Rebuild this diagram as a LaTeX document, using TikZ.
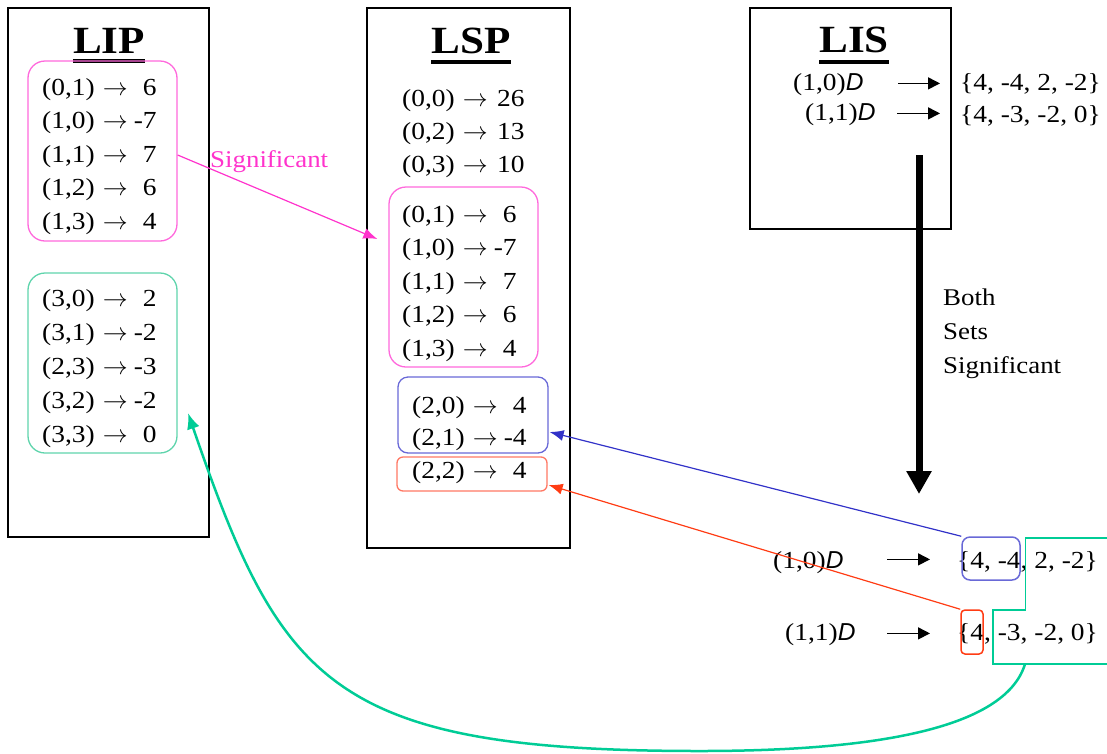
\documentclass[tikz,border=0pt]{standalone}
\usepackage{fontspec}
\setmainfont[FakeStretch=1.12]{Liberation Serif}
\newfontfamily\dfont{Liberation Sans}
\usetikzlibrary{arrows.meta}
\definecolor{pinkc}{RGB}{255,51,204}
\definecolor{pinkb}{RGB}{255,105,220}
\definecolor{greenc}{RGB}{0,204,150}
\definecolor{greenb}{RGB}{95,212,172}
\definecolor{bluec}{RGB}{50,50,200}
\definecolor{blueb}{RGB}{105,105,215}
\definecolor{redc}{RGB}{255,60,20}
\definecolor{redb}{RGB}{255,120,100}
\newcommand\rowfont{\fontsize{24.5}{30}\selectfont}
\newcommand\rw[3][29pt]{#2\hspace{8pt}$\rightarrow$\makebox[#1][r]{#3}}
\newcommand\dD{{\dfont\itshape D}}
\tikzset{
  panel/.style={draw, line width=1.5pt, inner sep=0},
  grp/.style={draw, line width=1.3pt, rounded corners=#1, inner sep=0},
  row/.style={anchor=base west, inner sep=0, font=\rowfont},
  head/.style={anchor=base, inner sep=0, font=\fontsize{38.5}{46}\selectfont\bfseries},
  uline/.style={line width=4pt},
  thin arrow/.style={line width=1.2pt, -{Latex[length=14pt,width=11pt]}},
  darr/.style={line width=1.5pt, -{Triangle[length=12pt,width=12pt]}},
}
\begin{document}
\begin{tikzpicture}[x=1pt,y=-1pt]
\useasboundingbox (0,0) rectangle (1107,753);

% ---------- panels
\node[panel, minimum width=201pt, minimum height=529pt] (LIP) at (108.5,272.5) {};
\node[panel, line width=2pt, minimum width=203pt, minimum height=540pt] (LSP) at (468.5,278) {};
\node[panel, minimum width=201pt, minimum height=221pt] (LIS) at (850.5,118.5) {};

% ---------- headings
\node[head] (hLIP) at (109,53) {LIP};
\node[head] (hLSP) at (471,53) {LSP};
\node[head] (hLIS) at (854,52) {LIS};
\draw[uline] ([yshift=-8pt]hLIP.base west) -- ([yshift=-8pt]hLIP.base east);
\draw[uline] ([yshift=-9pt]hLSP.base west) -- ([yshift=-9pt]hLSP.base east);
\draw[uline] ([yshift=-10pt]hLIS.base west) -- ([yshift=-10pt]hLIS.base east);

% ---------- group boxes
\node[grp=17pt, draw=pinkb, minimum width=149pt, minimum height=180pt] (pL) at (102.5,151) {};
\node[grp=17pt, draw=greenb, minimum width=149pt, minimum height=180pt] (gL) at (102.5,363) {};
\node[grp=17pt, draw=pinkb, minimum width=149pt, minimum height=180pt] (pS) at (463.5,277) {};
\node[grp=10pt, draw=blueb, minimum width=150pt, minimum height=76pt] (bS) at (473,415) {};
\node[grp=6pt, draw=redb, minimum width=150pt, minimum height=34pt] (rS) at (472,474) {};

% ---------- LIP rows
\node[row] (a1) at (42,95)    {\rw{(0,1)}{6}};
\node[row] (a2) at (42,128.5) {\rw{(1,0)}{-7}};
\node[row] (a3) at (42,162)   {\rw{(1,1)}{7}};
\node[row] (a4) at (42,195.5) {\rw{(1,2)}{6}};
\node[row] (a5) at (42,229)   {\rw{(1,3)}{4}};
\node[row] (b1) at (42,306)   {\rw{(3,0)}{2}};
\node[row] (b2) at (42,340)   {\rw{(3,1)}{-2}};
\node[row] (b3) at (42,374)   {\rw{(2,3)}{-3}};
\node[row] (b4) at (42,408)   {\rw{(3,2)}{-2}};
\node[row] (b5) at (42,442)   {\rw{(3,3)}{0}};

% ---------- LSP rows
\node[row] (c1) at (402,106)  {\rw[37pt]{(0,0)}{26}};
\node[row] (c2) at (402,139)  {\rw[37pt]{(0,2)}{13}};
\node[row] (c3) at (402,172)  {\rw[37pt]{(0,3)}{10}};
\node[row] (d1) at (402,222)   {\rw{(0,1)}{6}};
\node[row] (d2) at (402,255.5) {\rw{(1,0)}{-7}};
\node[row] (d3) at (402,289)   {\rw{(1,1)}{7}};
\node[row] (d4) at (402,322.5) {\rw{(1,2)}{6}};
\node[row] (d5) at (402,356)   {\rw{(1,3)}{4}};
\node[row] (e1) at (412,413) {\rw{(2,0)}{4}};
\node[row] (e2) at (412,445) {\rw{(2,1)}{-4}};
\node[row] (e3) at (412,478) {\rw{(2,2)}{4}};

% ---------- LIS rows
\node[row] (l1) at (793,90)  {(1,0)\dD};
\node[row] (l2) at (805,120) {(1,1)\dD};
\node[row] (s1) at (960,90)  {\{4, -4, 2, -2\}};
\node[row] (s2) at (960,122) {\{4, -3, -2, 0\}};
\draw[darr] ([xshift=-62pt]s1.west) -- ([xshift=-20pt]s1.west);
\draw[darr] ([xshift=-63pt,yshift=2pt]s2.west) -- ([xshift=-20pt,yshift=2pt]s2.west);

% ---------- thick arrow and its label
\coordinate (ta) at (919,155);
\coordinate (tb) at (919,494);
\draw[line width=7pt, -{Triangle[length=23pt,width=24pt]}] (ta) -- (tb);
\node[row, font=\fontsize{24}{30}\selectfont] (w1) at (943,305) {Both};
\node[row, font=\fontsize{24}{30}\selectfont] (w2) at (943,339) {Sets};
\node[row, font=\fontsize{24}{30}\selectfont] (w3) at (943,373) {Significant};

% ---------- lower sets
\node[row] (m1) at (773,568) {(1,0)\dD};
\node[row] (m2) at (785,640) {(1,1)\dD};
\node[row] (t1) at (957,568) {\{4, -4, 2, -2\}};
\node[row] (t2) at (957,640) {\{4, -3, -2, 0\}};
\draw[darr] ([xshift=-70pt,yshift=2pt]t1.west) -- ([xshift=-27pt,yshift=2pt]t1.west);
\draw[darr] ([xshift=-70pt]t2.west) -- ([xshift=-27pt]t2.west);

\node[draw=blueb, line width=1.5pt, rounded corners=8pt, inner sep=0, minimum width=58pt, minimum height=43pt] (hb) at (991,558.5) {};
\node[draw=redc, line width=1.5pt, rounded corners=4pt, inner sep=0, minimum width=22pt, minimum height=44pt] (hr) at (972,632) {};
\draw[greenc, line width=1.5pt] (1108,538) -- (1025.5,538) -- (1025.5,610) -- (993,610) -- (993,664) -- (1108,664);
\coordinate (gs) at (1025,664);
\coordinate (gt) at (188,413);

% ---------- connectors
\draw[pinkc, thin arrow] ([yshift=-4pt]pL.east) -- ([xshift=-11pt,yshift=38pt]pS.west);
\node[anchor=base west, inner sep=0, text=pinkc, font=\fontsize{24}{30}\selectfont] (sig) at (210,167) {Significant};
\draw[bluec, thin arrow] (hb.north west) -- ([xshift=1pt,yshift=-17pt]bS.east);
\draw[redc, thin arrow] (hr.north west) -- ([xshift=1pt,yshift=-11pt]rS.east);
\draw[greenc, line width=2.5pt, -{Latex[length=16pt,width=13pt]}]
  (gs) .. controls (1005,730) and (870,751) .. (700,751)
       .. controls (330,751) and (281,683) .. (gt);
\end{tikzpicture}
\end{document}
